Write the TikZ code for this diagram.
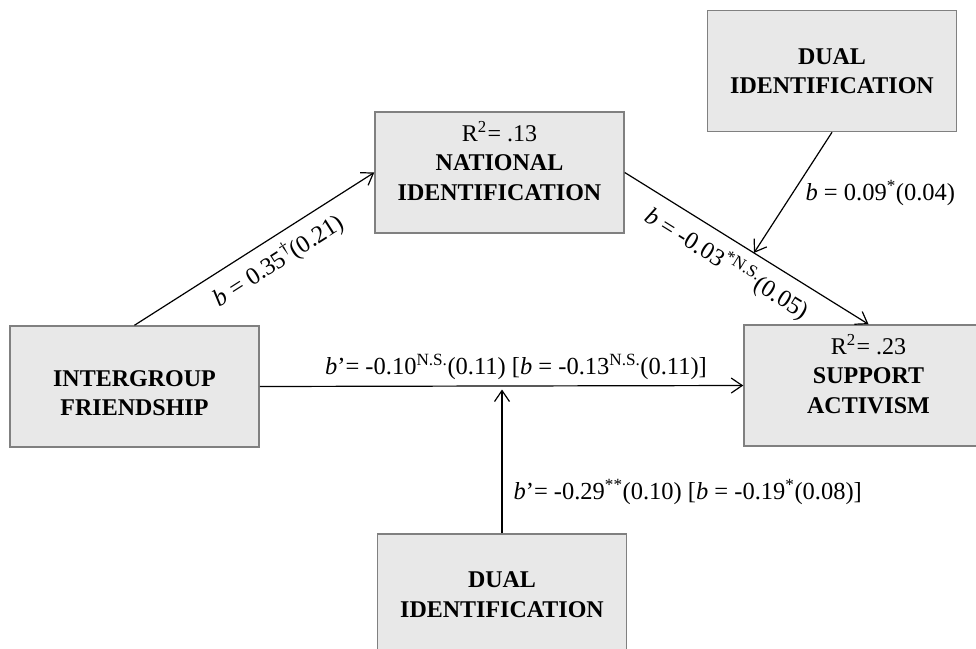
\documentclass[tikz,border=0pt]{standalone}
\usepackage{fontspec}
\setmainfont{Liberation Serif}
\usetikzlibrary{arrows.meta,calc}
\definecolor{boxfill}{RGB}{232,232,232}
\definecolor{boxline}{RGB}{128,128,128}
\tikzset{
  varbox/.style={draw=boxline, fill=boxfill, line width=1.5pt, minimum width=249pt,
    minimum height=121pt, align=center, font=\fontsize{24}{29.5}\selectfont\bfseries},
  coef/.style={font=\fontsize{24.5}{29}\selectfont, inner sep=2pt},
  effect/.style={-{Straight Barb[length=11pt,width=15pt]}, line width=1.2pt}
}

\begin{document}
\begin{tikzpicture}[x=1pt,y=-1pt]
    \useasboundingbox (0,0) rectangle (976,648);
    \clip (0,0) rectangle (976,648);

    % variables
    \node[varbox, text height=59pt] (friend) at (134.5,386.5) {INTERGROUP\\FRIENDSHIP};
    \node[varbox, text depth=24pt] (natid) at (499.5,172.5)
      {{\mdseries R\textsuperscript{2}\kern1pt= .13}\\NATIONAL\\IDENTIFICATION};
    \node[varbox] (dualtop) at (832,71) {DUAL\\IDENTIFICATION};
    \node[varbox, text depth=24pt] (activism) at (868.5,385.5)
      {{\mdseries R\textsuperscript{2}\kern1pt= .23}\\SUPPORT\\ACTIVISM};
    \node[varbox] (dualbot) at (502,594.5) {DUAL\\IDENTIFICATION};

    % moderation points
    \coordinate (m1) at ($(natid.east)!.53!(activism.north)$);
    \coordinate (m2) at (dualbot.north |- friend.east);

    % paths
    \draw[effect] (friend.north) -- (natid.west)
      node[coef, sloped, below=7pt, pos=.55] {\textit{b} = 0.35\textsuperscript{†}(0.21)};
    \draw[effect] (natid.east) -- (activism.north)
      node[coef, sloped, below=8pt, pos=.47] {\textit{b} = -0.03\textsuperscript{*N.S.}(0.05)};
    \draw[effect] (dualtop.south) -- (m1)
      node[coef, right=10pt, pos=.5] {\textit{b} = 0.09\textsuperscript{*}(0.04)};
    \draw[effect] (friend.east) -- (activism.west)
      node[coef, above=4pt, pos=.53] {\textit{b}’= -0.10\textsuperscript{N.S.}(0.11) [\textit{b} = -0.13\textsuperscript{N.S.}(0.11)]};
    \draw[effect, shorten >=3pt] (dualbot.north) -- (m2)
      node[coef, right=9pt, pos=.28] {\textit{b}’= -0.29\textsuperscript{**}(0.10) [\textit{b} = -0.19\textsuperscript{*}(0.08)]};
\end{tikzpicture}
\end{document}
